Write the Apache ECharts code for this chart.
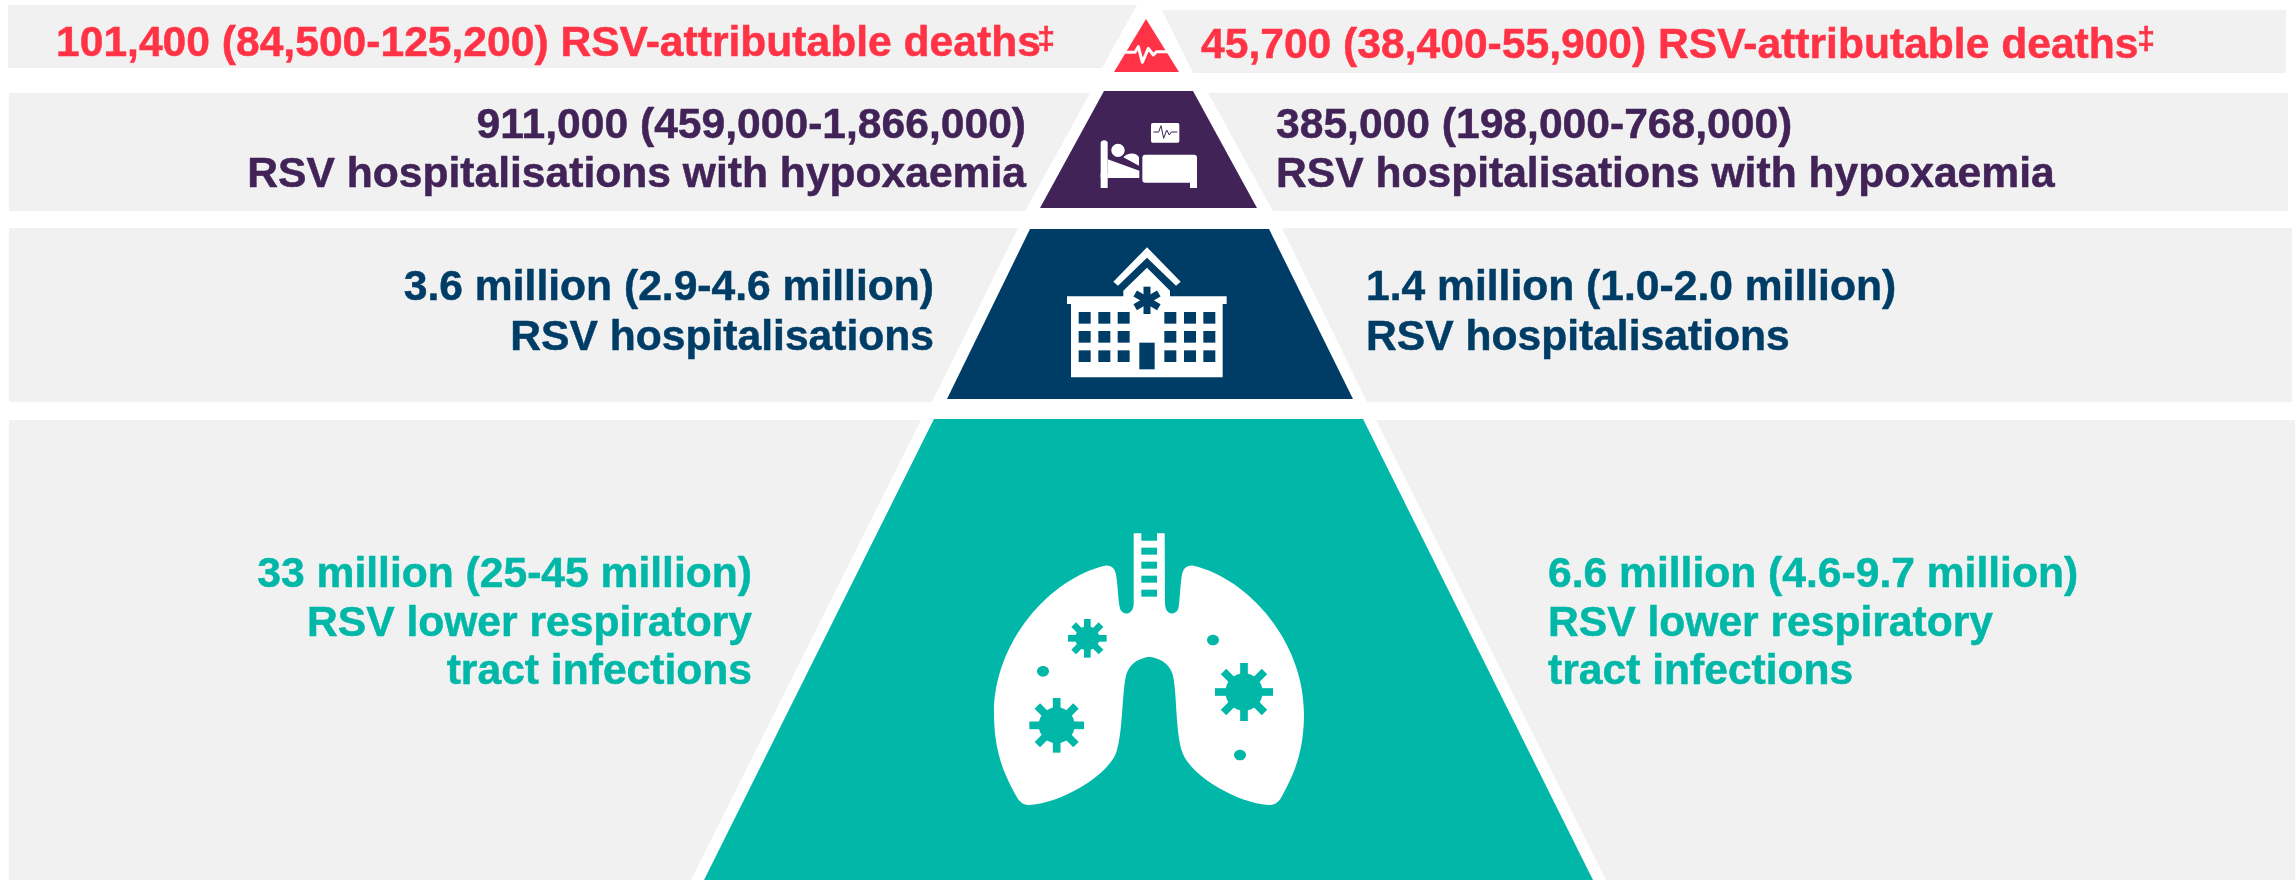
<!DOCTYPE html>
<html><head><meta charset="utf-8">
<style>html,body{margin:0;padding:0;background:#fff}#c{width:2295px;height:880px}</style>
<script src="https://cdn.jsdelivr.net/npm/echarts@6/dist/echarts.min.js"></script>
</head><body><div id="c"></div>
<script>
// --- content ---
const tiers = ['RSV-attributable deaths', 'RSV hospitalisations with hypoxaemia', 'RSV hospitalisations', 'RSV lower respiratory tract infections'];
const tierColors = ['#FF3345', '#412358', '#003D66', '#00B7A8'];
const groupA = ['101,400 (84,500-125,200)', '911,000 (459,000-1,866,000)', '3.6 million (2.9-4.6 million)', '33 million (25-45 million)'];
const groupB = ['45,700 (38,400-55,900)', '385,000 (198,000-768,000)', '1.4 million (1.0-2.0 million)', '6.6 million (4.6-9.7 million)'];
const bandColor = '#F1F1F1';

// --- diagram layout in axis units (axes span the page 1:1) ---
// [top, bottom, topLeft, topRight, bottomLeft, bottomRight]
const layers = [
  [19, 72, 1146, 1146, 1114, 1179],
  [91, 208, 1104, 1193, 1040, 1257],
  [229, 399, 1030, 1269, 947, 1353],
  [419, 880, 934, 1363, 704, 1593]
];
// [top, bottom, outerX, innerTopX, innerBottomX]
const bandsLeft = [[5, 68, 8, 1137, 1102], [93, 211, 9, 1090, 1025], [228, 402, 9, 1018, 932], [420, 880, 9, 921, 691]];
const bandsRight = [[10, 73, 2286, 1162, 1193], [93, 211, 2288, 1208, 1273], [228, 402, 2292, 1282, 1367], [420, 880, 2295, 1376, 1606]];
// [text, x, centreY, align, font size, tier]
const FS = 42.6, FSUP = 32;
const captions = [
  [groupA[0] + ' ' + tiers[0], 56, 44, 'left', FS, 0],
  ['‡', 1055, 40, 'right', FSUP, 0],
  [groupB[0] + ' ' + tiers[0], 1201, 46, 'left', FS, 0],
  ['‡', 2155, 40, 'right', FSUP, 0],
  [groupA[1], 1026, 126, 'right', FS, 1],
  [tiers[1], 1026, 175, 'right', FS, 1],
  [groupB[1], 1276, 126, 'left', FS, 1],
  [tiers[1], 1276, 175, 'left', FS, 1],
  [groupA[2], 934, 288, 'right', FS, 2],
  ['RSV hospitalisations', 934, 338, 'right', FS, 2],
  [groupB[2], 1366, 288, 'left', FS, 2],
  ['RSV hospitalisations', 1366, 338, 'left', FS, 2],
  [groupA[3], 752, 575, 'right', FS, 3],
  ['RSV lower respiratory', 752, 624, 'right', FS, 3],
  ['tract infections', 752, 672, 'right', FS, 3],
  [groupB[3], 1548, 575, 'left', FS, 3],
  ['RSV lower respiratory', 1548, 624, 'left', FS, 3],
  ['tract infections', 1548, 672, 'left', FS, 3]
];

const WHITE = '#fff';
const poly = (pts, fill) => ({type: 'polygon', shape: {points: pts}, style: {fill}});
const rect = (x, y, w, h, fill, r) => ({type: 'rect', shape: {x, y, width: w, height: h, r: r || 0}, style: {fill}});
const dot = (cx, cy, rx, ry, fill) => ({type: 'ellipse', shape: {cx, cy, rx, ry}, style: {fill}});
const trace = (d, stroke, w) => ({type: 'path', shape: {pathData: d}, style: {fill: null, stroke, lineWidth: w, lineJoin: 'round'}});
const spokes = (cx, cy, reach, w, n, fill) => {
  const out = [];
  for (let i = 0; i < n; i++) {
    const a = i * Math.PI * 2 / n + Math.PI / 2, c = Math.cos(a), s = Math.sin(a);
    const q = (u, v) => [cx + u * c - v * s, cy + u * s + v * c];
    out.push(poly([q(0, -w / 2), q(reach, -w / 2), q(reach, w / 2), q(0, w / 2)], fill));
  }
  return out;
};
const germ = (cx, cy, core, reach, w, fill) => [dot(cx, cy, core, core, fill)].concat(spokes(cx, cy, reach, w, 8, fill));

function deathIcon() {
  return [trace('M435 157 L465 157 L475 140 L487 187 L505 145 L520 165 L530 155 L567 155', WHITE, 9)];
}
function bedIcon() {
  const c = tierColors[1];
  return [
    {type: 'path', shape: {pathData: 'M362 428 C362 418 383 418 383 428 L383 533 L362 533 Z'}, style: {fill: WHITE}},
    rect(362, 520, 21, 44, WHITE),
    poly([[383, 478], [478, 512], [478, 534], [383, 534]], WHITE),
    dot(414, 451, 20, 20, WHITE),
    {type: 'path', shape: {pathData: 'M430 472 C440 458 470 455 477 472 L477 497 Z'}, style: {fill: WHITE}},
    rect(487, 464, 164, 84, WHITE, 9),
    rect(630, 530, 21, 34, WHITE),
    rect(513, 369, 85, 59, WHITE, 5),
    trace('M520 396 L536 396 L543 377 L551 415 L560 390 L568 405 L574 396 L592 396', c, 3)
  ];
}
function hospitalIcon() {
  const c = tierColors[2], out = [
    poly([[580, 185], [681, 82], [782, 185], [768, 197], [681, 113], [594, 197]], WHITE),
    poly([[610, 232], [610, 212], [681, 143], [750, 212], [750, 232]], WHITE),
    rect(441, 229, 479, 23, WHITE),
    rect(453, 250, 455, 222, WHITE)
  ];
  [476, 535, 593, 733, 792, 850].forEach(x => [276, 333, 391].forEach(y => out.push(rect(x, y, 36, 35, c))));
  out.push(rect(658, 368, 46, 80, c));
  return out.concat(spokes(681, 241, 41, 21, 6, c));
}
function lungIcon() {
  const c = tierColors[3];
  const lungs = 'M435 167 C270 205 102 395 102 610 C102 720 130 790 170 860 C180 880 195 885 210 885 C300 880 440 800 468 730 C490 670 485 540 500 490 C512 455 545 443 568 440 C592 443 625 455 637 490 C652 540 645 670 668 730 C695 800 835 880 925 885 C940 885 955 880 965 860 C1005 790 1032 720 1032 610 C1032 395 865 205 700 167 C680 165 668 175 665 200 C660 230 660 270 655 295 C650 315 620 320 615 285 L614 70 L591 70 L591 92 L544 92 L544 70 L521 70 L521 285 C516 320 485 315 480 295 C474 270 474 230 469 200 C466 175 455 165 435 167 Z';
  let out = [{type: 'path', shape: {pathData: lungs}, style: {fill: WHITE}}];
  [113, 155, 197, 239].forEach(y => out.push(rect(544, y, 47, 21, c)));
  out = out.concat(germ(382, 385, 36, 58, 20, c), germ(290, 646, 54, 82, 23, c), germ(852, 546, 56, 87, 23, c));
  out.push(dot(249, 484, 18, 16, c), dot(759, 390, 18, 16, c), dot(840, 735, 18, 16, c));
  return out;
}
// [x, y] origin in axis units of each icon's drawing (drawn at 3 units per page pixel)
const iconOrigins = [[980, 0], [980, 0], [920, 220], [960, 510]];
const iconMakers = [deathIcon, bedIcon, hospitalIcon, lungIcon];

const chart = echarts.init(document.getElementById('c'), null, {renderer: 'canvas'});
const axis = (max, inverse) => ({type: 'value', min: 0, max, inverse, show: false});

chart.setOption({
  animation: false,
  backgroundColor: '#fff',
  grid: {left: 0, right: 0, top: 0, bottom: 0},
  xAxis: axis(2295, false),
  yAxis: axis(880, true),
  tooltip: {show: false},
  series: [
    {
      name: 'bands', type: 'custom', silent: true, clip: false, z: 1,
      data: bandsLeft.concat(bandsRight),
      encode: {x: 2, y: 0},
      renderItem: (p, api) => {
        const t = api.value(0), b = api.value(1), o = api.value(2), it = api.value(3), ib = api.value(4);
        return poly([[o, t], [it, t], [ib, b], [o, b]].map(q => api.coord(q)), bandColor);
      }
    },
    {
      name: 'pyramid', type: 'custom', silent: true, clip: false, z: 2,
      data: layers,
      encode: {x: 2, y: 0},
      renderItem: (p, api) => {
        const t = api.value(0), b = api.value(1);
        const pts = [[api.value(2), t], [api.value(3), t], [api.value(5), b], [api.value(4), b]];
        return poly(pts.map(q => api.coord(q)), tierColors[p.dataIndex]);
      }
    },
    {
      name: 'icons', type: 'custom', silent: true, clip: false, z: 3,
      data: iconOrigins,
      encode: {x: 0, y: 1},
      renderItem: (p, api) => {
        const o = api.coord([api.value(0), api.value(1)]);
        return {type: 'group', x: o[0], y: o[1], scaleX: 1 / 3, scaleY: 1 / 3, children: iconMakers[p.dataIndex]()};
      }
    },
    {
      name: 'captions', type: 'custom', silent: true, clip: false, z: 4,
      data: captions.map((c, i) => [c[1], c[2], i]),
      encode: {x: 0, y: 1},
      renderItem: (p, api) => {
        const c = captions[p.dataIndex], o = api.coord([c[1], c[2]]);
        return {type: 'text', x: o[0], y: o[1], style: {
          text: c[0], fill: tierColors[c[5]], align: c[3], verticalAlign: 'middle',
          stroke: tierColors[c[5]], lineWidth: 0.5,
          font: 'bold ' + c[4] + 'px "Liberation Sans"'
        }};
      }
    }
  ]
});
</script></body></html>
